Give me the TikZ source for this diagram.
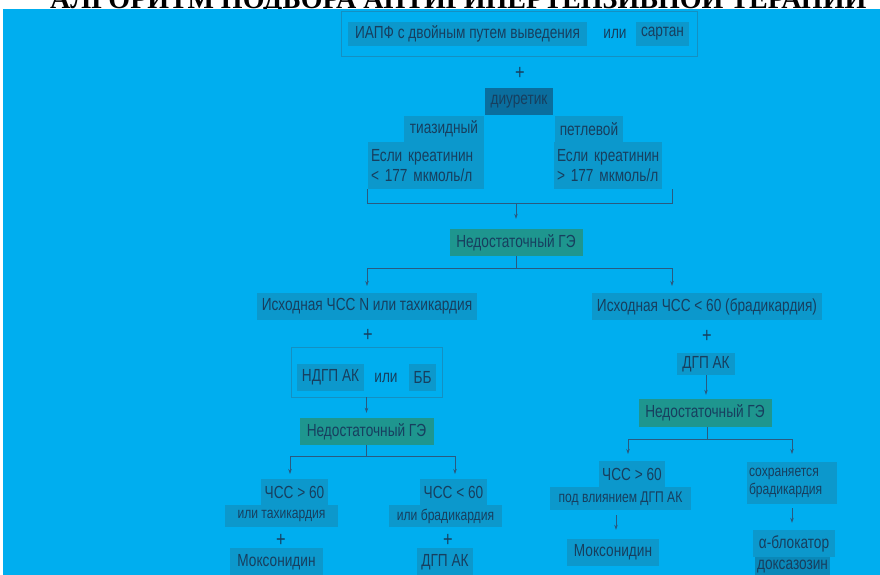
\documentclass[tikz,border=0pt]{standalone}
\usepackage{fontspec}
\usepackage{graphicx}
\usetikzlibrary{arrows.meta}
\newfontfamily\cond[FakeStretch=0.78]{Liberation Sans}
\newfontfamily\titleserif{Liberation Serif}
\definecolor{bgblue}{HTML}{00AEEF}
\definecolor{boxblue}{HTML}{0C98CC}
\definecolor{diurblue}{HTML}{0A6E9E}
\definecolor{gapteal}{HTML}{1E968F}
\definecolor{doksblue}{HTML}{0A88B8}
\definecolor{ink}{HTML}{173F5F}
\definecolor{framec}{HTML}{1490C2}
\definecolor{linec}{HTML}{2A5A80}

\begin{document}
\begin{tikzpicture}[x=1pt, y=-1pt,
    box/.style={fill=boxblue, text=ink, inner sep=0pt, font=\cond\fontsize{17.5}{20}\selectfont},
    smallbox/.style={box, font=\cond\fontsize{15.5}{18.5}\selectfont},
    gapbox/.style={box, fill=gapteal},
    framebox/.style={draw=framec, line width=0.8pt, inner sep=0pt},
    word/.style={text=ink, inner sep=0pt, font=\cond\fontsize{17.5}{20}\selectfont},
    plus/.style={word, font=\cond\fontsize{21}{21}\selectfont},
    ln/.style={draw=linec, line width=0.7pt},
    arr/.style={ln, -{Stealth[length=5pt,width=3.5pt]}}]
        \useasboundingbox (0,0) rectangle (880,575);
        \clip (0,0) rectangle (880,575);
        \fill[white] (0,0) rectangle (880,575);
        \node[anchor=base west, inner sep=0pt, font=\titleserif\bfseries] (title) at (50,9)
            {\resizebox{816pt}{!}{АЛГОРИТМ ПОДБОРА АНТИГИПЕРТЕНЗИВНОЙ ТЕРАПИИ}};
        \fill[bgblue] (3,9) rectangle (880,575);

        % top
        \node[framebox, minimum width=356, minimum height=45] (top) at (519,33.5) {};
        \node[box, minimum width=239, minimum height=24] (iapf) at (467.5,34) {ИАПФ с двойным путем выведения};
        \node[word] (ili1) at (615,34) {или};
        \node[box, minimum width=53, minimum height=24] (sartan) at (662.5,34) {сартан};
        \node[plus] (plus1) at (520,73) {+};
        \node[box, fill=diurblue, minimum width=68, minimum height=27] (diur) at (519,101.5) {диуретик};
        \node[box, minimum width=80, minimum height=26] (tiaz) at (444,129) {тиазидный};
        \node[box, minimum width=68, minimum height=26] (petl) at (589,129) {петлевой};
        \node[box, minimum height=47, text width=110, inner xsep=3, align=left] (kreatL) at (426,165.5)
            {Если~креатинин\\<~177~мкмоль/л};
        \node[box, minimum height=47, text width=102, inner xsep=3, align=left] (kreatR) at (608,165.5)
            {Если~креатинин\\>~177~мкмоль/л};

        \coordinate (brL) at (367,203);
        \coordinate (brR) at (672,203);
        \draw[ln] (kreatL.south -| brL) -- (brL) -- (brR) -- (kreatR.south -| brR);

        \node[gapbox, minimum width=133, minimum height=27] (gap1) at (516,242.5) {Недостаточный ГЭ};
        \draw[arr] (gap1.north |- brL) -- ([yshift=10pt]gap1.north);

        \coordinate (s1) at (516,268);
        \coordinate (tipN) at (367,286);
        \coordinate (tipB) at (672,286);
        \draw[ln] (gap1.south) -- (s1);
        \draw[arr] (s1) -| (tipN);
        \draw[arr] (s1) -| (tipB);

        % left branch
        \node[box, minimum width=220, minimum height=27] (hrN) at (367,306.5) {Исходная ЧСС N или тахикардия};
        \node[plus] (plus2) at (368,335) {+};
        \node[framebox, minimum width=151, minimum height=50] (frame2) at (366.5,372) {};
        \node[box, minimum width=67, minimum height=27] (ndgp) at (330.5,377.5) {НДГП АК};
        \node[word] (ili2) at (386,378) {или};
        \node[box, minimum width=27, minimum height=27] (bb) at (422.5,377.5) {ББ};
        \node[gapbox, minimum width=134, minimum height=27] (gap2) at (366.5,431.5) {Недостаточный ГЭ};
        \draw[arr] (frame2.south) -- ([yshift=5pt]gap2.north);

        \coordinate (s2) at (366.5,456);
        \coordinate (tipL1) at (290,474);
        \coordinate (tipL2) at (455,474);
        \draw[ln] (gap2.south) -- (s2);
        \draw[arr] (s2) -| (tipL1);
        \draw[arr] (s2) -| (tipL2);

        \node[box, minimum width=67, minimum height=26] (chss1) at (294.5,492) {ЧСС > 60};
        \node[smallbox, minimum width=113, minimum height=22] (tah) at (281.5,516) {или тахикардия};
        \node[plus] (plus3) at (281,540) {+};
        \node[box, minimum width=93, minimum height=28] (mox1) at (276.5,562) {Моксонидин};
        \node[box, minimum width=67, minimum height=26] (chss2) at (453.5,492) {ЧСС < 60};
        \node[smallbox, minimum width=113, minimum height=22] (brad) at (445.5,516) {или брадикардия};
        \node[plus] (plus4) at (448,540) {+};
        \node[box, minimum width=56, minimum height=28] (dgp1) at (445,562) {ДГП АК};

        % right branch
        \node[box, minimum width=230, minimum height=27] (hrB) at (707,306.5) {Исходная ЧСС < 60 (брадикардия)};
        \node[plus] (plus5) at (707,336) {+};
        \node[box, minimum width=58, minimum height=22] (dgp2) at (706,364) {ДГП АК};
        \node[gapbox, minimum width=133, minimum height=28] (gap3) at (705,413) {Недостаточный ГЭ};
        \draw[arr] (dgp2.south) -- ([yshift=4pt]gap3.north -| dgp2.south);

        \coordinate (s3) at (707,439);
        \coordinate (tipR1) at (628,454);
        \coordinate (tipR2) at (792,454);
        \draw[ln] (gap3.south -| s3) -- (s3);
        \draw[arr] (s3) -| (tipR1);
        \draw[arr] (s3) -| (tipR2);

        \node[box, minimum width=66, minimum height=26] (chss3) at (632,474) {ЧСС > 60};
        \node[smallbox, minimum width=141, minimum height=23] (vliyan) at (620.5,498.5) {под влиянием ДГП АК};
        \node[box, minimum width=92, minimum height=27] (mox2) at (613,552.5) {Моксонидин};
        \draw[arr, shorten <=5pt] (vliyan.south -| 616,0) -- ([yshift=9pt]mox2.north -| 616,0);

        \node[smallbox, minimum height=42, text width=86, inner xsep=2, align=left] (sohr) at (792,483)
            {сохраняется\\брадикардия};
        \node[box, minimum width=82, minimum height=27] (alpha) at (794,543.5) {α-блокатор};
        \node[box, fill=doksblue, minimum width=75, minimum height=19] (doks) at (792.5,566.5) {доксазозин};
        \draw[arr, shorten <=4pt] (sohr.south) -- ([yshift=7pt]alpha.north -| sohr.south);
\end{tikzpicture}
\end{document}
